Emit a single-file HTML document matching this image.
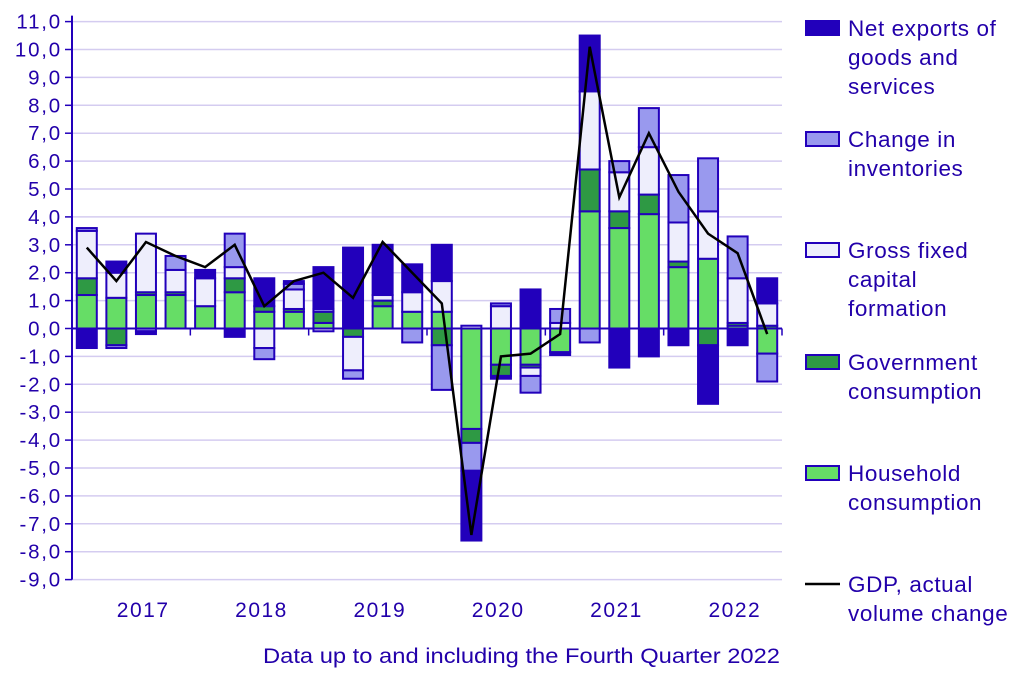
<!DOCTYPE html>
<html><head><meta charset="utf-8"><style>
body{margin:0;background:#fff;}
svg text{font-family:"Liberation Sans",sans-serif;fill:#2200aa;}
</style></head><body>
<svg id="chart" width="1022" height="669" xmlns="http://www.w3.org/2000/svg"></svg>
<script>
const quarters = ["2017Q1","2017Q2","2017Q3","2017Q4","2018Q1","2018Q2","2018Q3","2018Q4","2019Q1","2019Q2","2019Q3","2019Q4","2020Q1","2020Q2","2020Q3","2020Q4","2021Q1","2021Q2","2021Q3","2021Q4","2022Q1","2022Q2","2022Q3","2022Q4"];
const household = [1.2,1.1,1.2,1.2,0.8,1.3,0.6,0.6,0.2,0.0,0.8,0.6,0.6,-3.6,-1.3,-1.3,-0.85,4.2,3.6,4.1,2.2,2.5,0.1,-0.9];
const government = [0.6,-0.6,0.1,0.1,0.0,0.5,0.2,0.1,0.4,-0.3,0.2,0.0,-0.6,-0.5,-0.4,-0.1,0.0,1.5,0.6,0.7,0.2,-0.6,0.1,0.1];
const gfcf = [1.7,0.9,2.1,0.8,1.0,0.4,-0.7,0.7,-0.1,-1.2,0.2,0.7,1.1,0.1,0.8,-0.3,0.2,2.8,1.4,1.7,1.4,1.7,1.6,0.8];
const inventories = [0.1,-0.1,-0.1,0.5,0.0,1.2,-0.4,0.2,0.1,-0.3,0.0,-0.5,-1.6,-1.0,0.1,-0.6,0.5,-0.5,0.4,1.4,1.7,1.9,1.5,-1.0];
const netExports = [-0.7,0.4,-0.1,0.0,0.3,-0.3,1.0,0.1,1.5,2.9,1.8,1.0,1.3,-2.5,-0.1,1.4,-0.1,2.0,-1.4,-1.0,-0.6,-2.1,-0.6,0.9];
const gdp = [2.9,1.7,3.1,2.6,2.2,3.0,0.8,1.7,2.0,1.1,3.1,2.0,0.9,-7.4,-1.0,-0.9,-0.2,10.1,4.7,7.0,4.9,3.4,2.7,-0.2];
const yTicks = [11,10,9,8,7,6,5,4,3,2,1,0,-1,-2,-3,-4,-5,-6,-7,-8,-9];
const years = ["2017","2018","2019","2020","2021","2022"];

const NS="http://www.w3.org/2000/svg";
const svg=document.getElementById('chart');
const X0=72,X1=782,Y0=328.5,PU=27.9;
const step=(X1-X0)/quarters.length;
const y=v=>Y0-v*PU;
const xc=i=>X0+step*(i+0.5);
function mk(tag,at,parent){const e=document.createElementNS(NS,tag);for(const k in at)e.setAttribute(k,at[k]);(parent||svg).appendChild(e);return e;}

yTicks.forEach(v=>{
  if(v!==0){const g=mk('line',{x1:X0,x2:X1,y1:y(v),y2:y(v),stroke:'#d4ccf0','stroke-width':1.5});
  
  }
  const t=mk('line',{x1:X0-7,x2:X0,y1:y(v),y2:y(v),stroke:'#2200bb','stroke-width':1.5});
  
  
  const l=mk('text',{x:X0-10,y:y(v)+7,'text-anchor':'end','font-size':20.5,'letter-spacing':1.8});
  l.textContent=v.toFixed(1).replace('.',',');
  
  
});

const series=[
 {d:household,fill:'#66dd66',name:'household'},
 {d:government,fill:'#2e9944',name:'government'},
 {d:gfcf,fill:'#eeeefc',name:'gfcf'},
 {d:inventories,fill:'#9999ee',name:'inventories'},
 {d:netExports,fill:'#2200bb',name:'net-exports'}];
const bw=20;
quarters.forEach((q,i)=>{
  let pos=0,neg=0;
  series.forEach(s=>{
    const v=s.d[i]; if(!v) return;
    let a,b;
    if(v>0){a=pos;b=pos+v;pos=b;}else{a=neg;b=neg+v;neg=b;}
    const r=mk('rect',{x:xc(i)-bw/2,y:y(Math.max(a,b)),width:bw,height:Math.abs(v)*PU,fill:s.fill,stroke:'#2200bb','stroke-width':2});
    
    
  });
});
const ax=mk('line',{x1:X0,x2:X1,y1:Y0,y2:Y0,stroke:'#2200bb','stroke-width':2});


for(let k=0;k<=years.length;k++){
  const t=mk('line',{x1:X0+k*4*step,x2:X0+k*4*step,y1:Y0,y2:Y0+7,stroke:'#2200bb','stroke-width':1.5});
  
  
}
years.forEach((yr,k)=>{
  const l=mk('text',{x:X0+(k*4+2)*step+12,y:617,'text-anchor':'middle','font-size':21,'letter-spacing':1.5});
  l.textContent=yr;
  
  
});
const ya=mk('line',{x1:X0,x2:X0,y1:y(11)-6,y2:y(-9),stroke:'#2200bb','stroke-width':2});


const pl=mk('polyline',{points:gdp.map((v,i)=>xc(i)+','+y(v)).join(' '),fill:'none',stroke:'#000','stroke-width':2.5});



const cap=mk('text',{x:263,y:663,'font-size':21,textLength:517,lengthAdjust:'spacingAndGlyphs'});
cap.textContent='Data up to and including the Fourth Quarter 2022';



const leg=[
 {fill:'#2200bb',lines:['Net exports of','goods and','services'],y:28},
 {fill:'#9999ee',lines:['Change in','inventories'],y:139},
 {fill:'#eeeefc',lines:['Gross fixed','capital','formation'],y:250},
 {fill:'#2e9944',lines:['Government','consumption'],y:362},
 {fill:'#66dd66',lines:['Household','consumption'],y:473},
 {line:true,lines:['GDP, actual','volume change'],y:584}];
leg.forEach(e=>{
  if(e.line){const l=mk('line',{x1:805,x2:840,y1:e.y,y2:e.y,stroke:'#000','stroke-width':2.5});
    
    }
  else{const r=mk('rect',{x:806,y:e.y-7,width:33,height:14,fill:e.fill,stroke:'#2200bb','stroke-width':2});
    
    }
  e.lines.forEach((s,j)=>{
    const t=mk('text',{x:848,y:e.y+8+j*29,'font-size':22.5,'letter-spacing':0.6});
    t.textContent=s;
    
    
  });
});
</script>
</body></html>
